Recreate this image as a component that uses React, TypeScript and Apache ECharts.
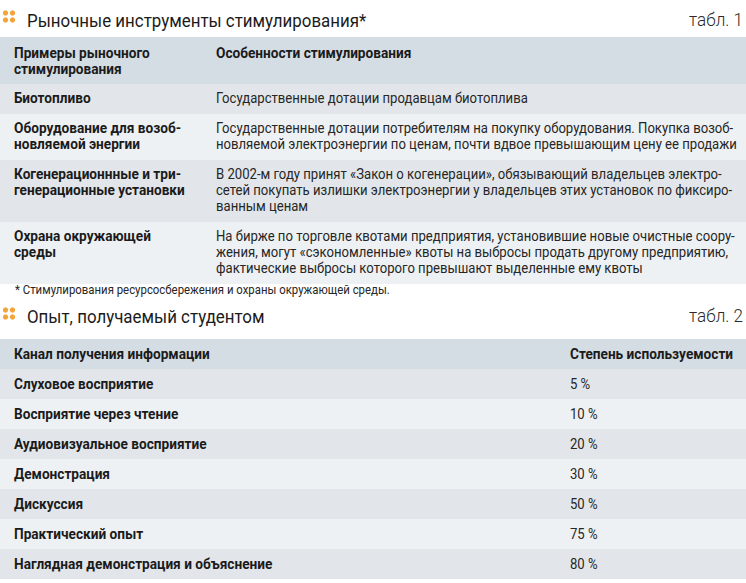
import React, { useEffect, useRef } from "react";
import * as echarts from "echarts";

const W = 746;
const H = 583;

// ---- data ----
const title1 = "Рыночные инструменты стимулирования*";
const tableLabel1 = "табл. 1";
const t1Headers = ["Примеры рыночного\nстимулирования", "Особенности стимулирования"];
const t1Examples = [
  "Биотопливо",
  "Оборудование для возоб-\nновляемой энергии",
  "Когенерационнные и три-\nгенерационные установки",
  "Охрана окружающей\nсреды",
];
const t1Features = [
  "Государственные дотации продавцам биотоплива",
  "Государственные дотации потребителям на покупку оборудования. Покупка возоб-\nновляемой электроэнергии по ценам, почти вдвое превышающим цену ее продажи",
  "В 2002-м году принят «Закон о когенерации», обязывающий владельцев электро-\nсетей покупать излишки электроэнергии у владельцев этих установок по фиксиро-\nванным ценам",
  "На бирже по торговле квотами предприятия, установившие новые очистные соору-\nжения, могут «сэкономленные» квоты на выбросы продать другому предприятию,\nфактические выбросы которого превышают выделенные ему квоты",
];
const footnote = "* Стимулирования ресурсосбережения и охраны окружающей среды.";

const title2 = "Опыт, получаемый студентом";
const tableLabel2 = "табл. 2";
const t2Headers = ["Канал получения информации", "Степень используемости"];
const t2Channels = [
  "Слуховое восприятие",
  "Восприятие через чтение",
  "Аудиовизуальное восприятие",
  "Демонстрация",
  "Дискуссия",
  "Практический опыт",
  "Наглядная демонстрация и объяснение",
];
const t2Values = [5, 10, 20, 30, 50, 75, 80];

// ---- style ----
const FAMILY = "Roboto";
const C_HEADER = "#d4dde3";
const C_DARK = "#e2e6ea";
const C_LIGHT = "#eef1f4";
const C_TEXT = "#1b1b1b";
const C_DOT = "#f3a53c";
const LINE_H = 16;

const S_BODY = { size: 15, weight: "normal", sx: 0.875 };
const S_BOLD = { size: 15, weight: "bold", sx: 0.91 };
const S_TITLE = { size: 19, weight: "normal", sx: 0.89 };
const S_LABEL = { size: 18, weight: "300", sx: 0.95 };
const S_NOTE = { size: 12, weight: "normal", sx: 0.95 };

function txt(x: number, y: number, text: string, s: any, opts: any = {}) {
  const align = opts.align || "left";
  const valign = opts.valign || "top";
  return {
    type: "text",
    x,
    y,
    scaleX: s.sx,
    silent: true,
    style: {
      x: 0,
      y: 0,
      text,
      fontFamily: FAMILY,
      fontSize: s.size,
      fontWeight: s.weight,
      fill: opts.fill || C_TEXT,
      align,
      verticalAlign: valign,
      textAlign: align,
      textVerticalAlign: valign,
      lineHeight: LINE_H,
    },
  };
}

function rect(x: number, y: number, w: number, h: number, fill: string) {
  return { type: "rect", silent: true, shape: { x, y, width: w, height: h }, style: { fill } };
}

function dots(x: number, y: number) {
  const out: any[] = [];
  for (let r = 0; r < 2; r++)
    for (let c = 0; c < 2; c++)
      out.push({
        type: "circle",
        silent: true,
        shape: { cx: x + c * 7, cy: y + r * 7, r: 2.7 },
        style: { fill: C_DOT },
      });
  return out;
}

function lines(s: string) {
  return s.split("\n").length;
}

function buildElements() {
  const els: any[] = [];
  // ---- table 1 ----
  els.push(...dots(5.5, 13));
  els.push(txt(27, 20, title1, S_TITLE, { valign: "middle" }));
  els.push(txt(743, 20, tableLabel1, S_LABEL, { valign: "middle", align: "right", fill: "#2a2a2a" }));

  let y = 37;
  const hdrH = 47;
  els.push(rect(0, y, W, hdrH, C_HEADER));
  els.push(txt(14, y + 8, t1Headers[0], S_BOLD));
  els.push(txt(216, y + 8, t1Headers[1], S_BOLD));
  y += hdrH;
  t1Examples.forEach((ex, i) => {
    const n = Math.max(lines(ex), lines(t1Features[i]));
    const h = 14 + LINE_H * n;
    els.push(rect(0, y, W, h, i % 2 === 0 ? C_DARK : C_LIGHT));
    els.push(txt(14, y + 6, ex, S_BOLD));
    els.push(txt(216, y + 6, t1Features[i], S_BODY, { fill: "#262626" }));
    y += h;
  });
  els.push(txt(15, 290, footnote, S_NOTE, { valign: "middle", fill: "#262626" }));

  // ---- table 2 ----
  els.push(...dots(5.5, 310));
  els.push(txt(27, 316, title2, S_TITLE, { valign: "middle" }));
  els.push(txt(743, 316, tableLabel2, S_LABEL, { valign: "middle", align: "right", fill: "#2a2a2a" }));
  y = 339;
  const rowH = 30;
  els.push(rect(0, y, W, rowH, C_HEADER));
  els.push(txt(14, y + rowH / 2, t2Headers[0], S_BOLD, { valign: "middle" }));
  els.push(txt(570, y + rowH / 2, t2Headers[1], S_BOLD, { valign: "middle" }));
  y += rowH;
  t2Channels.forEach((ch, i) => {
    els.push(rect(0, y, W, rowH, i % 2 === 0 ? C_DARK : C_LIGHT));
    els.push(txt(14, y + rowH / 2, ch, S_BOLD, { valign: "middle" }));
    els.push(txt(570, y + rowH / 2, `${t2Values[i]} %`, S_BODY, { valign: "middle", fill: "#262626" }));
    y += rowH;
  });
  return els;
}

export default function App() {
  const ref = useRef<HTMLDivElement>(null);
  useEffect(() => {
    document.body.style.margin = "0";
    const chart = echarts.init(ref.current!, null, { renderer: "svg" });
    chart.setOption({
      animation: false,
      backgroundColor: "#ffffff",
      graphic: { elements: buildElements() },
    });
    return () => chart.dispose();
  }, []);
  return <div ref={ref} style={{ width: W, height: H }} />;
}
